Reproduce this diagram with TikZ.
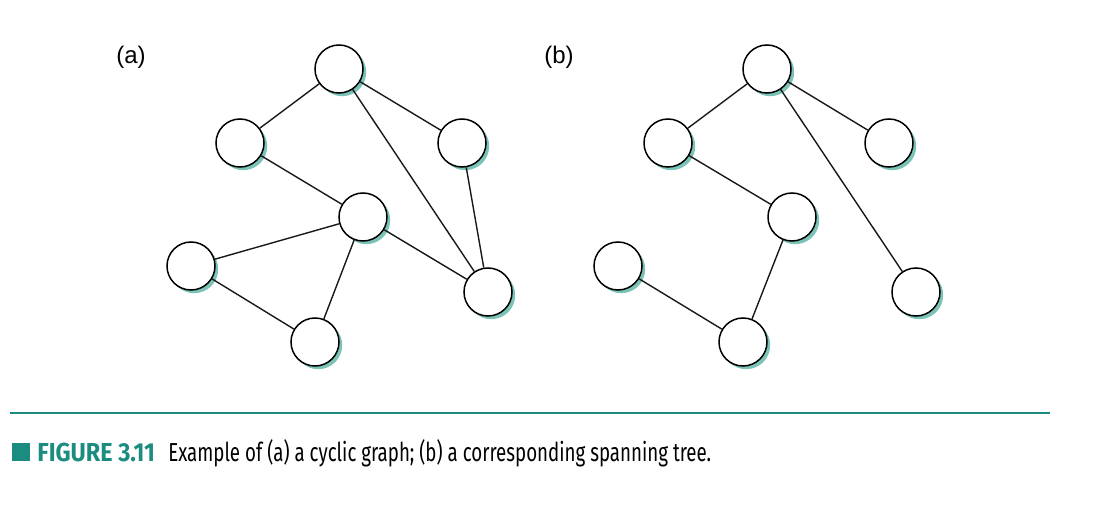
\documentclass[tikz,border=0pt]{standalone}
\usepackage{fontspec}
\setmainfont{Liberation Sans}
\newfontfamily\capfont[FakeStretch=0.72]{Fira Sans}
\newfontfamily\figfont[FakeStretch=0.90]{Fira Sans}
\usepackage{tikz}
\usetikzlibrary{shadows}
\definecolor{teal}{HTML}{1C8C80}
\definecolor{shade}{HTML}{7CC3B7}

\begin{document}
\begin{tikzpicture}[
    x=0.5pt, y=-0.5pt,
    vtx/.style={circle, draw, line width=0.75pt, fill=white, minimum size=24pt, inner sep=0pt,
        drop shadow={shadow xshift=1.6pt, shadow yshift=-1.6pt, fill=shade, opacity=1}},
    edge/.style={line width=0.7pt, draw=black!90},
    lbl/.style={font=\fontsize{12}{14}\selectfont}
]
\useasboundingbox (0,0) rectangle (1094,508);
% Labels
\node[lbl] (la) at (131,57) {(a)};
\node[lbl] (lb) at (559,57) {(b)};
% Cyclic graph
\node[vtx] (a1) at (339,69) {};
\node[vtx] (a2) at (240,143) {};
\node[vtx] (a3) at (462,143) {};
\node[vtx] (a4) at (363,217) {};
\node[vtx] (a5) at (191,266) {};
\node[vtx] (a6) at (315,342) {};
\node[vtx] (a7) at (488,292) {};
% Spanning tree
\node[vtx] (b1) at (767,69) {};
\node[vtx] (b2) at (668,143) {};
\node[vtx] (b3) at (889,143) {};
\node[vtx] (b4) at (792,217) {};
\node[vtx] (b5) at (618,266) {};
\node[vtx] (b6) at (743,342) {};
\node[vtx] (b7) at (916,292) {};
% Edges (a)
\draw[edge] (a1) -- (a2);
\draw[edge] (a1) -- (a3);
\draw[edge] (a1) -- (a7);
\draw[edge] (a2) -- (a4);
\draw[edge] (a3) -- (a7);
\draw[edge] (a4) -- (a5);
\draw[edge] (a4) -- (a6);
\draw[edge] (a4) -- (a7);
\draw[edge] (a5) -- (a6);
% Edges (b)
\draw[edge] (b1) -- (b2);
\draw[edge] (b1) -- (b3);
\draw[edge] (b1) -- (b7);
\draw[edge] (b2) -- (b4);
\draw[edge] (b4) -- (b6);
\draw[edge] (b5) -- (b6);
% Caption
\coordinate (r0) at (10,413);
\coordinate (r1) at (1050,413);
\draw[teal, line width=0.9pt] (r0) -- (r1);
\node[fill=teal, minimum size=9pt, inner sep=0pt] (sq) at (21,452) {};
\node[anchor=base west, inner sep=0pt, text=teal, font=\figfont\bfseries\fontsize{13}{15}\selectfont]
    (fig) at (37,461) {FIGURE 3.11};
\node[anchor=base west, inner sep=0pt, font=\capfont\fontsize{13}{15}\selectfont]
    (cap) at (168,461) {Example of (a) a cyclic graph; (b) a corresponding spanning tree.};
\end{tikzpicture}
\end{document}
